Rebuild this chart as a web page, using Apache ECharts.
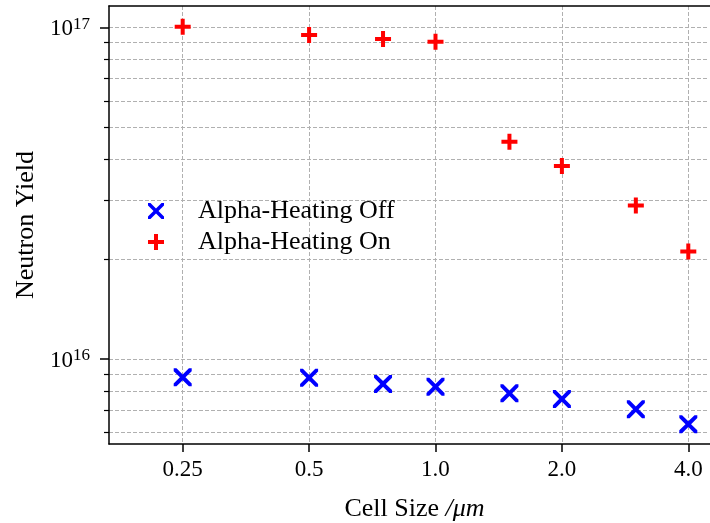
<!DOCTYPE html>
<html>
<head>
<meta charset="utf-8">
<script src="https://cdn.jsdelivr.net/npm/echarts@6/dist/echarts.min.js"></script>
<style>
  html, body { margin: 0; padding: 0; background: #fff; }
  #chart { width: 710px; height: 523px; }
</style>
</head>
<body>
<div id="chart"></div>
<script>
// ---- data ----
var cellSizes = [0.25, 0.5, 0.75, 1.0, 1.5, 2.0, 3.0, 4.0];
var yieldOff = [8.80e15, 8.78e15, 8.41e15, 8.25e15, 7.88e15, 7.57e15, 7.05e15, 6.36e15];
var yieldOn = [1.004e17, 9.48e16, 9.22e16, 9.05e16, 4.52e16, 3.82e16, 2.90e16, 2.11e16];
var seriesNames = ['Alpha-Heating Off', 'Alpha-Heating On'];
var xTicks = [0.25, 0.5, 1.0, 2.0, 4.0];
var xTickLabels = ['0.25', '0.5', '1.0', '2.0', '4.0'];
var yMajorTicks = [1e16, 1e17];
var yMajorExps = ['16', '17'];
var yMinorTicks = [6e15, 7e15, 8e15, 9e15, 2e16, 3e16, 4e16, 5e16, 6e16, 7e16, 8e16, 9e16];
var xAxisTitle = 'Cell Size ';
var xAxisUnit = '/\u03bcm';
var yAxisTitle = 'Neutron Yield';

// ---- build ----
var FONT = 'Liberation Serif';
var X_MIN = 0.16689, X_MAX = 4.7595;
var Y_MIN = 5.541e15, Y_MAX = 1.1594e17;
var GRID_COLOR = '#b0b0b0';

var plusPath = 'path://M6,0H10V6H16V10H10V16H6V10H0V6H6Z';
var w = 3.1;
function xPath() {
  var p = [[0,-w],[10-w,-10],[10,-10],[10,-10+w],[w,0],[10,10-w],[10,10],[10-w,10],[0,w],[-10+w,10],[-10,10],[-10,10-w],[-w,0],[-10,-10+w],[-10,-10],[-10+w,-10]];
  return 'path://M' + p.map(function (q) { return (q[0] + 10) + ',' + (q[1] + 10); }).join('L') + 'Z';
}

var chart = echarts.init(document.getElementById('chart'), null, { renderer: 'canvas' });

function pairs(xs, ys) { return xs.map(function (x, i) { return [x, ys[i]]; }); }

var option = {
  animation: false,
  backgroundColor: '#fff',
  grid: { left: 109, top: 6, width: 611, height: 438, outerBoundsMode: 'none', containLabel: false, show: false },
  legend: {
    orient: 'vertical', left: 143, top: 193, itemWidth: 78, itemHeight: 16, itemGap: 5,
    textStyle: { fontFamily: FONT, fontSize: 26, color: '#000', lineHeight: 25, padding: [0,0,0,-2] },
    data: seriesNames
  },
  graphic: [{
    type: 'rect', z: 100, silent: true,
    shape: { x: 707, y: 7, width: 4, height: 436 },
    style: { fill: '#fff' }
  }],
  xAxis: [{
    type: 'log', logBase: 2, min: X_MIN, max: X_MAX,
    axisLine: { show: true, lineStyle: { color: '#000', width: 1.5 } },
    axisTick: { show: true, customValues: xTicks, length: 8, lineStyle: { color: '#000', width: 1.5 } },
    axisLabel: { customValues: xTicks, margin: 14, fontFamily: FONT, fontSize: 23, color: '#000',
      formatter: function (v) { var i = xTicks.findIndex(function (t) { return Math.abs(t - v) < 1e-6; }); return i >= 0 ? xTickLabels[i] : ''; } },
    splitLine: { show: true, lineStyle: { color: GRID_COLOR, type: [4, 2], width: 1 } },
    name: xAxisTitle + '{it|' + xAxisUnit + '}', nameLocation: 'middle', nameGap: 52,
    nameTextStyle: { fontFamily: FONT, fontSize: 26, color: '#000', rich: { it: { fontFamily: FONT, fontStyle: 'italic', fontSize: 26 } } }
  }, {
    type: 'log', logBase: 2, min: X_MIN, max: X_MAX, position: 'top',
    axisLine: { show: true, onZero: false, lineStyle: { color: '#000', width: 1.5 } },
    axisTick: { show: false }, axisLabel: { show: false }, splitLine: { show: false }
  }],
  yAxis: [{
    type: 'log', logBase: 10, min: Y_MIN, max: Y_MAX,
    axisLine: { show: true, lineStyle: { color: '#000', width: 1.5 } },
    axisTick: { show: true, customValues: yMajorTicks, length: 9, lineStyle: { color: '#000', width: 1.5 } },
    axisLabel: { customValues: yMajorTicks, margin: 19, fontFamily: FONT, fontSize: 23, color: '#000', padding: [4, 0, 0, 0],
      formatter: function (v) { var i = yMajorTicks.findIndex(function (t) { return Math.abs(Math.log10(t) - Math.log10(v)) < 1e-6; }); return i >= 0 ? '10{sup|' + yMajorExps[i] + '}' : ''; },
      rich: { sup: { fontFamily: FONT, fontSize: 17, verticalAlign: 'top', padding: [0, 0, 10, 0] } } },
    splitLine: { show: true, lineStyle: { color: GRID_COLOR, type: [4, 2], width: 1 } },
    name: yAxisTitle, nameLocation: 'middle', nameGap: 70,
    nameTextStyle: { fontFamily: FONT, fontSize: 26, color: '#000' }
  }, {
    type: 'log', logBase: 10, min: Y_MIN, max: Y_MAX, position: 'left',
    axisLine: { show: false },
    axisTick: { show: true, customValues: yMinorTicks, length: 5, lineStyle: { color: '#000', width: 1.2 } },
    axisLabel: { show: false, customValues: yMinorTicks },
    splitLine: { show: true, lineStyle: { color: GRID_COLOR, type: [4, 2], width: 1 } }
  }],
  series: [{
    name: seriesNames[0], type: 'scatter', data: pairs(cellSizes, yieldOff),
    symbol: xPath(), symbolSize: 18, itemStyle: { color: '#0000ff', opacity: 1 }, z: 5
  }, {
    name: seriesNames[1], type: 'scatter', data: pairs(cellSizes, yieldOn),
    symbol: plusPath, symbolSize: 16, itemStyle: { color: '#ff0000', opacity: 1 }, z: 5
  }]
};
chart.setOption(option);
</script>
</body>
</html>
